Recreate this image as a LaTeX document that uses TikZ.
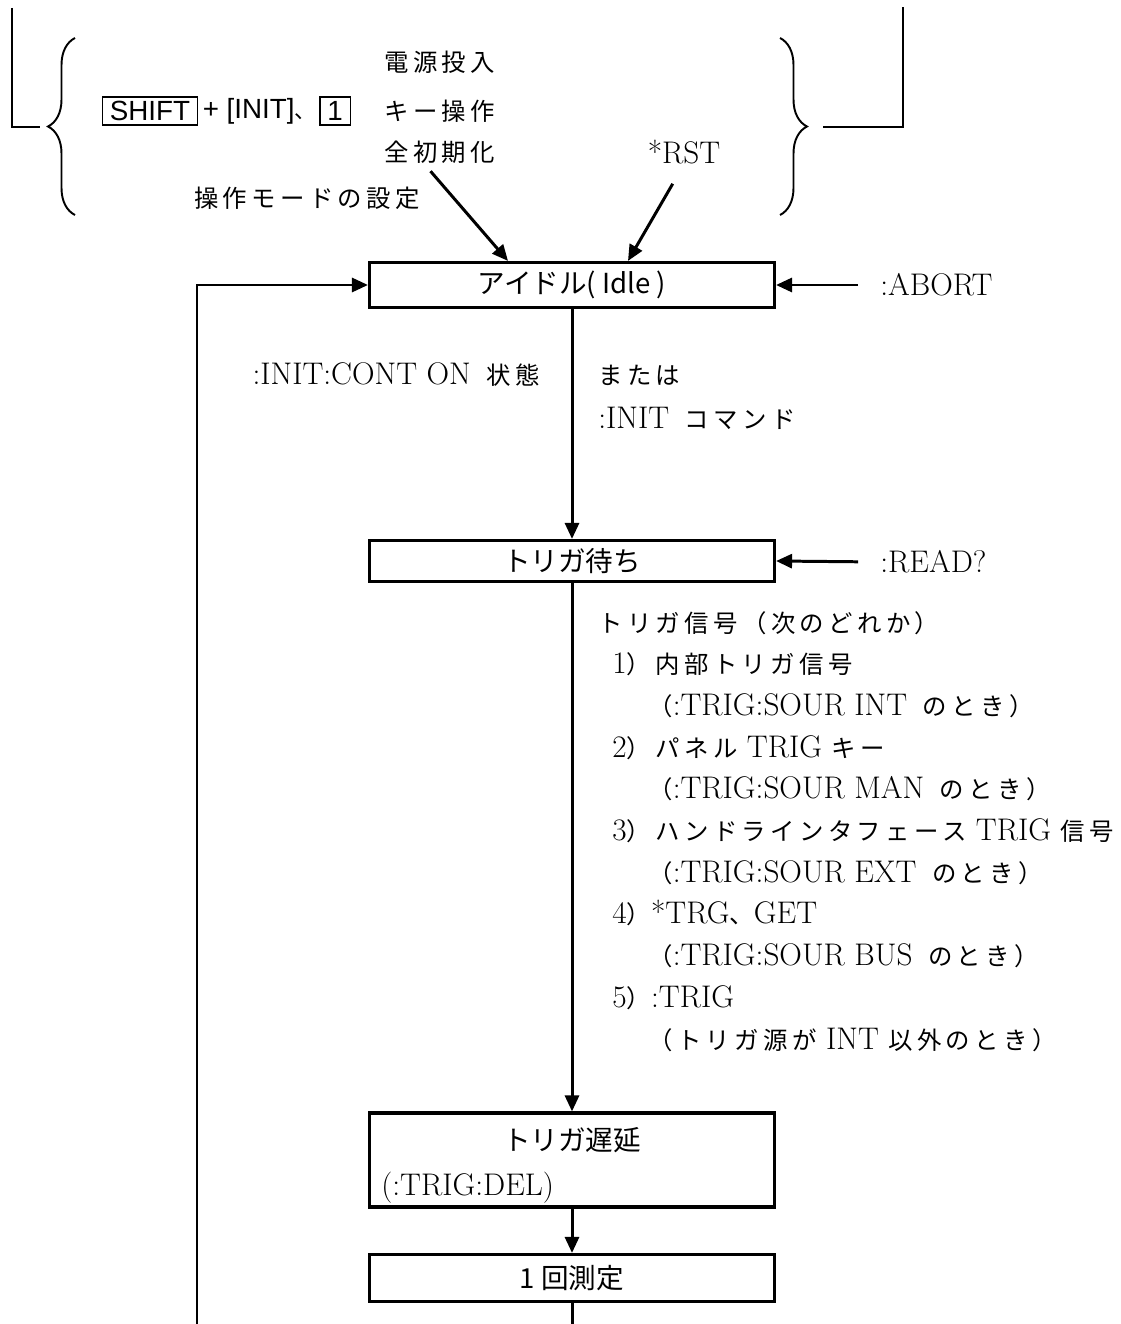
\documentclass[tikz,border=0pt]{standalone}
\usepackage{fontspec}
\newfontfamily\jp{Noto Sans CJK JP}[Scale=0.78, LetterSpace=18]
\newfontfamily\jpbox{Noto Sans CJK JP}
\newfontfamily\keyfont{Liberation Sans}
\usetikzlibrary{arrows.meta,positioning,calc,decorations.pathreplacing}
\tikzset{
  flowbox/.style={draw, line width=1.8pt, minimum width=8.1cm, inner sep=0pt,
                  font=\fontsize{15.7}{18}\selectfont\jpbox},
  boxtxt/.style={inner sep=0pt, font=\fontsize{15.7}{18}\selectfont\jpbox},
  lbl/.style={inner sep=0pt, font=\fontsize{17.8}{21}\selectfont},
  keybox/.style={draw, line width=1pt, inner xsep=0.15cm, inner ysep=0pt,
                 minimum height=0.56cm, font=\fontsize{15.8}{18}\selectfont\keyfont},
  keytxt/.style={inner sep=0pt, font=\fontsize{15.8}{18}\selectfont\keyfont},
  flow/.style={line width=1.7pt, -{Triangle[length=0.32cm,width=0.28cm]}},
  flowline/.style={line width=1.7pt},
  thinline/.style={line width=1.1pt},
  curly/.style={thinline, decorate, decoration={brace, amplitude=0.54cm}},
}
\begin{document}
\begin{tikzpicture}[x=0.02cm, y=-0.02cm]
\useasboundingbox (0,0) rectangle (1121,1324);

% Start conditions and the braces round them
\coordinate (ltop) at (12,8);
\coordinate (ltip) at (40,127);
\coordinate (rtip) at (823,127);
\coordinate (rtop) at (903,7);
\draw[thinline] (ltop) |- (ltip);
\draw[thinline] (rtip) -| (rtop);
\draw[curly] (75,215) -- (75,38);
\draw[curly] (780,38) -- (780,215);

\node[keybox] (shiftkey) at (150,111) {SHIFT};
\node[keytxt, right=0.08cm of shiftkey] (plusinit) {+ [INIT]{\jp 、}};
\node[keybox, right=0.05cm of plusinit] (onekey) {1};

\node[lbl, anchor=west] (keyop) at (384,111) {\jp キー操作};
\node[lbl, anchor=west] (power) at (384,62) {\jp 電源投入};
\node[lbl, anchor=west] (init) at (384,152) {\jp 全初期化};
\node[lbl] (mode) at (307,198) {\jp 操作モードの設定};
\node[lbl] (rst) at (684,152) {*RST};

% Main flow
\node[flowbox, minimum height=0.9cm] (idle) at (572,285) {アイドル( Idle )};
\node[flowbox, minimum height=0.82cm] (wait) at (572,561) {トリガ待ち};
\node[flowbox, minimum height=1.88cm] (delay) at (572,1160) {};
\node[boxtxt] (delayname) at (572,1140) {トリガ遅延};
\node[lbl, anchor=west] (delaycmd) at (381,1188) {(:TRIG:DEL)};
\node[flowbox, minimum height=0.94cm] (meas) at (572,1278) {1 回測定};

\node[lbl, anchor=west] (abort) at (880,285) {:ABORT};
\node[lbl, anchor=west] (read) at (880,562) {:READ?};

\node[lbl, anchor=east] (contlbl) at (540,375) {:INIT:CONT ON\enspace{\jp 状態}};
\node[lbl, anchor=west] (orlbl) at (598,375) {\jp または};
\node[lbl, anchor=west] (initcmd) at (598,418) {:INIT\enspace{\jp コマンド}};

% Trigger sources
\foreach \i/\dx/\txt in {
  0/598/{{\jp トリガ信号（次のどれか）}},
  1/612/{1{\jp ）内部トリガ信号}},
  2/648/{{\jp （}:TRIG:SOUR INT\enspace{\jp のとき）}},
  3/612/{2{\jp ）パネル} TRIG {\jp キー}},
  4/648/{{\jp （}:TRIG:SOUR MAN\enspace{\jp のとき）}},
  5/612/{3{\jp ）ハンドラインタフェース} TRIG {\jp 信号}},
  6/648/{{\jp （}:TRIG:SOUR EXT\enspace{\jp のとき）}},
  7/612/{4{\jp ）}*TRG{\jp 、}GET},
  8/648/{{\jp （}:TRIG:SOUR BUS\enspace{\jp のとき）}},
  9/612/{5{\jp ）}:TRIG},
  10/648/{{\jp （トリガ源が} INT {\jp 以外のとき）}}}
  \node[lbl, anchor=base west] (src\i) at (\dx,{632+41.7*\i}) {\txt};

% Connectors
\draw[flow, shorten <=0.2cm] ([xshift=0.8cm]init.south west) -- ([xshift=-1.28cm]idle.north);
\draw[flow, shorten <=0.45cm] (rst.south) -- ([xshift=1.12cm]idle.north);
\draw[flow, shorten <=0.44cm] (abort.west) -- (idle.east);
\draw[flow, shorten <=0.44cm] (read.west) -- (wait.east);
\draw[flow] (idle) -- (wait);
\draw[flow] (wait) -- (delay);
\draw[flow] (delay) -- (meas);
\coordinate (measout) at (572,1324);
\draw[flowline] (meas) -- (measout);
\coordinate (loopin) at (197,1324);
\draw[flow] (loopin) |- (idle.west);
\end{tikzpicture}
\end{document}
